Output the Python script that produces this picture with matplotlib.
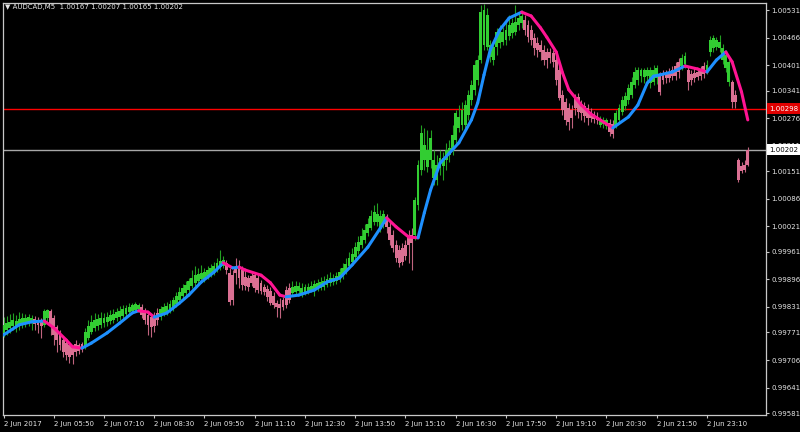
import numpy as np
import matplotlib
matplotlib.use("Agg")
import matplotlib.pyplot as plt
from matplotlib.transforms import blended_transform_factory

# AUDCAD M5, 2 Jun 2017 04:30 onwards (Heiken-Ashi style bars), last 4 bars = Monday open
bar_open = [
    0.99770, 0.99777, 0.99782, 0.99786, 0.99784, 0.99789, 0.99791, 0.99796, 0.99796, 0.99796, 0.99803, 0.99800, 0.99798, 0.99789, 0.99805, 0.99822,
    0.99805, 0.99784, 0.99770, 0.99753, 0.99746, 0.99741, 0.99737, 0.99744, 0.99741, 0.99744, 0.99739, 0.99758, 0.99772, 0.99782, 0.99786, 0.99789,
    0.99793, 0.99796, 0.99798, 0.99800, 0.99805, 0.99807, 0.99810, 0.99815, 0.99819, 0.99822, 0.99824, 0.99826, 0.99831, 0.99819, 0.99812, 0.99807,
    0.99805, 0.99817, 0.99807, 0.99815, 0.99819, 0.99824, 0.99829, 0.99838, 0.99848, 0.99857, 0.99864, 0.99871, 0.99881, 0.99888, 0.99892, 0.99897,
    0.99897, 0.99904, 0.99909, 0.99913, 0.99918, 0.99925, 0.99928, 0.99935, 0.99911, 0.99906, 0.99925, 0.99923, 0.99918, 0.99902, 0.99899, 0.99904,
    0.99906, 0.99899, 0.99888, 0.99878, 0.99873, 0.99869, 0.99857, 0.99840, 0.99838, 0.99848, 0.99871, 0.99876, 0.99864, 0.99866, 0.99869, 0.99864,
    0.99866, 0.99869, 0.99871, 0.99871, 0.99873, 0.99876, 0.99878, 0.99883, 0.99888, 0.99890, 0.99892, 0.99897, 0.99904, 0.99913, 0.99928, 0.99937,
    0.99949, 0.99963, 0.99977, 0.99989, 1.00005, 1.00017, 1.00031, 1.00031, 1.00017, 1.00027, 1.00041, 1.00020, 1.00001, 0.99977, 0.99965, 0.99970,
    0.99977, 0.99998, 1.00001, 1.00001, 1.00071, 1.00154, 1.00178, 1.00161, 1.00178, 1.00135, 1.00130, 1.00159, 1.00163, 1.00178, 1.00189, 1.00201,
    1.00225, 1.00253, 1.00260, 1.00260, 1.00284, 1.00319, 1.00343, 1.00366, 1.00413, 1.00449, 1.00444, 1.00420, 1.00413, 1.00444, 1.00453, 1.00456,
    1.00460, 1.00470, 1.00477, 1.00479, 1.00496, 1.00500, 1.00507, 1.00496, 1.00484, 1.00465, 1.00453, 1.00449, 1.00437, 1.00432, 1.00432, 1.00430,
    1.00413, 1.00390, 1.00331, 1.00314, 1.00300, 1.00295, 1.00324, 1.00326, 1.00310, 1.00305, 1.00300, 1.00291, 1.00286, 1.00281, 1.00260, 1.00262,
    1.00258, 1.00265, 1.00262, 1.00260, 1.00272, 1.00291, 1.00305, 1.00319, 1.00331, 1.00354, 1.00366, 1.00375, 1.00373, 1.00375, 1.00359, 1.00361,
    1.00371, 1.00375, 1.00380, 1.00380, 1.00383, 1.00390, 1.00399, 1.00409, 1.00399, 1.00404, 1.00390, 1.00380, 1.00383, 1.00385, 1.00387, 1.00399,
    1.00390, 1.00432, 1.00441, 1.00444, 1.00441, 1.00413, 1.00394, 1.00361, 1.00361, 1.00331, 1.00178, 1.00163, 1.00166, 1.00201,
]
bar_close = [
    0.99789, 0.99793, 0.99796, 0.99800, 0.99798, 0.99803, 0.99805, 0.99805, 0.99807, 0.99805, 0.99791, 0.99789, 0.99786, 0.99822, 0.99824, 0.99789,
    0.99765, 0.99753, 0.99741, 0.99725, 0.99718, 0.99713, 0.99718, 0.99725, 0.99727, 0.99732, 0.99772, 0.99786, 0.99796, 0.99800, 0.99803, 0.99805,
    0.99805, 0.99807, 0.99812, 0.99815, 0.99819, 0.99822, 0.99826, 0.99829, 0.99831, 0.99836, 0.99838, 0.99836, 0.99812, 0.99800, 0.99789, 0.99784,
    0.99786, 0.99800, 0.99826, 0.99831, 0.99833, 0.99838, 0.99848, 0.99857, 0.99866, 0.99876, 0.99883, 0.99892, 0.99899, 0.99906, 0.99909, 0.99911,
    0.99913, 0.99918, 0.99923, 0.99928, 0.99935, 0.99939, 0.99942, 0.99918, 0.99843, 0.99848, 0.99911, 0.99899, 0.99883, 0.99881, 0.99878, 0.99888,
    0.99876, 0.99871, 0.99869, 0.99866, 0.99855, 0.99840, 0.99836, 0.99831, 0.99829, 0.99831, 0.99836, 0.99848, 0.99878, 0.99881, 0.99881, 0.99876,
    0.99878, 0.99878, 0.99881, 0.99885, 0.99888, 0.99890, 0.99892, 0.99897, 0.99899, 0.99899, 0.99904, 0.99913, 0.99923, 0.99932, 0.99947, 0.99956,
    0.99972, 0.99984, 0.99998, 1.00013, 1.00027, 1.00046, 1.00055, 1.00050, 1.00046, 1.00050, 1.00020, 0.99989, 0.99970, 0.99947, 0.99935, 0.99937,
    0.99951, 0.99977, 0.99982, 1.00083, 1.00166, 1.00241, 1.00213, 1.00201, 1.00229, 1.00178, 1.00166, 1.00182, 1.00182, 1.00201, 1.00206, 1.00236,
    1.00288, 1.00279, 1.00295, 1.00307, 1.00331, 1.00354, 1.00401, 1.00413, 1.00526, 1.00531, 1.00519, 1.00449, 1.00444, 1.00479, 1.00484, 1.00479,
    1.00484, 1.00496, 1.00500, 1.00503, 1.00512, 1.00517, 1.00484, 1.00467, 1.00460, 1.00441, 1.00437, 1.00432, 1.00413, 1.00413, 1.00418, 1.00409,
    1.00366, 1.00324, 1.00295, 1.00272, 1.00267, 1.00276, 1.00300, 1.00291, 1.00288, 1.00281, 1.00276, 1.00276, 1.00274, 1.00272, 1.00274, 1.00272,
    1.00272, 1.00244, 1.00239, 1.00288, 1.00300, 1.00319, 1.00328, 1.00347, 1.00361, 1.00385, 1.00390, 1.00390, 1.00390, 1.00390, 1.00390, 1.00390,
    1.00394, 1.00338, 1.00366, 1.00371, 1.00371, 1.00375, 1.00375, 1.00385, 1.00418, 1.00423, 1.00361, 1.00366, 1.00371, 1.00373, 1.00375, 1.00380,
    1.00401, 1.00460, 1.00465, 1.00460, 1.00456, 1.00441, 1.00425, 1.00409, 1.00314, 1.00314, 1.00130, 1.00152, 1.00154, 1.00166,
]
bar_high = [
    0.99807, 0.99810, 0.99815, 0.99817, 0.99812, 0.99819, 0.99817, 0.99815, 0.99815, 0.99812, 0.99810, 0.99807, 0.99805, 0.99826, 0.99826, 0.99826,
    0.99812, 0.99789, 0.99777, 0.99760, 0.99753, 0.99746, 0.99741, 0.99753, 0.99746, 0.99749, 0.99782, 0.99800, 0.99812, 0.99817, 0.99815, 0.99819,
    0.99817, 0.99819, 0.99824, 0.99826, 0.99829, 0.99833, 0.99836, 0.99836, 0.99840, 0.99840, 0.99843, 0.99840, 0.99838, 0.99829, 0.99819, 0.99815,
    0.99819, 0.99829, 0.99833, 0.99840, 0.99843, 0.99848, 0.99855, 0.99866, 0.99878, 0.99885, 0.99892, 0.99899, 0.99918, 0.99928, 0.99923, 0.99930,
    0.99923, 0.99928, 0.99932, 0.99937, 0.99947, 0.99965, 0.99951, 0.99942, 0.99923, 0.99918, 0.99947, 0.99942, 0.99928, 0.99918, 0.99906, 0.99913,
    0.99913, 0.99909, 0.99895, 0.99885, 0.99883, 0.99878, 0.99866, 0.99848, 0.99852, 0.99855, 0.99881, 0.99888, 0.99892, 0.99892, 0.99890, 0.99888,
    0.99885, 0.99888, 0.99892, 0.99895, 0.99897, 0.99902, 0.99904, 0.99909, 0.99913, 0.99909, 0.99913, 0.99923, 0.99935, 0.99947, 0.99961, 0.99970,
    0.99984, 0.99998, 1.00017, 1.00027, 1.00041, 1.00060, 1.00071, 1.00076, 1.00060, 1.00060, 1.00050, 1.00031, 1.00013, 0.99989, 0.99977, 0.99982,
    0.99989, 1.00013, 1.00017, 1.00090, 1.00178, 1.00260, 1.00253, 1.00248, 1.00248, 1.00201, 1.00189, 1.00201, 1.00196, 1.00218, 1.00225, 1.00260,
    1.00295, 1.00307, 1.00314, 1.00319, 1.00343, 1.00366, 1.00413, 1.00425, 1.00543, 1.00545, 1.00536, 1.00460, 1.00456, 1.00489, 1.00496, 1.00491,
    1.00503, 1.00519, 1.00512, 1.00543, 1.00526, 1.00531, 1.00519, 1.00507, 1.00496, 1.00477, 1.00467, 1.00460, 1.00449, 1.00441, 1.00441, 1.00437,
    1.00425, 1.00401, 1.00343, 1.00324, 1.00312, 1.00307, 1.00333, 1.00335, 1.00319, 1.00314, 1.00310, 1.00300, 1.00293, 1.00291, 1.00281, 1.00279,
    1.00276, 1.00274, 1.00272, 1.00295, 1.00310, 1.00328, 1.00338, 1.00357, 1.00373, 1.00397, 1.00397, 1.00394, 1.00394, 1.00397, 1.00397, 1.00401,
    1.00401, 1.00385, 1.00390, 1.00390, 1.00394, 1.00399, 1.00409, 1.00418, 1.00427, 1.00432, 1.00399, 1.00390, 1.00394, 1.00394, 1.00399, 1.00409,
    1.00413, 1.00470, 1.00472, 1.00467, 1.00472, 1.00451, 1.00437, 1.00418, 1.00366, 1.00343, 1.00182, 1.00173, 1.00178, 1.00208,
]
bar_low = [
    0.99760, 0.99765, 0.99770, 0.99777, 0.99772, 0.99777, 0.99782, 0.99784, 0.99786, 0.99777, 0.99777, 0.99770, 0.99758, 0.99784, 0.99796, 0.99765,
    0.99741, 0.99725, 0.99730, 0.99713, 0.99706, 0.99699, 0.99697, 0.99716, 0.99720, 0.99725, 0.99732, 0.99753, 0.99767, 0.99774, 0.99777, 0.99782,
    0.99784, 0.99786, 0.99791, 0.99793, 0.99798, 0.99800, 0.99805, 0.99807, 0.99810, 0.99817, 0.99819, 0.99819, 0.99805, 0.99791, 0.99765, 0.99760,
    0.99772, 0.99789, 0.99800, 0.99810, 0.99812, 0.99817, 0.99822, 0.99831, 0.99840, 0.99852, 0.99857, 0.99866, 0.99876, 0.99881, 0.99885, 0.99890,
    0.99890, 0.99897, 0.99902, 0.99906, 0.99913, 0.99918, 0.99923, 0.99909, 0.99836, 0.99836, 0.99885, 0.99876, 0.99871, 0.99871, 0.99869, 0.99881,
    0.99866, 0.99864, 0.99862, 0.99859, 0.99845, 0.99836, 0.99829, 0.99807, 0.99805, 0.99824, 0.99829, 0.99840, 0.99857, 0.99862, 0.99859, 0.99855,
    0.99859, 0.99862, 0.99866, 0.99857, 0.99869, 0.99871, 0.99871, 0.99878, 0.99881, 0.99883, 0.99885, 0.99890, 0.99897, 0.99909, 0.99921, 0.99932,
    0.99944, 0.99956, 0.99970, 0.99982, 0.99998, 1.00013, 1.00024, 1.00022, 1.00008, 1.00017, 1.00005, 0.99977, 0.99961, 0.99937, 0.99925, 0.99930,
    0.99942, 0.99935, 0.99918, 0.99989, 1.00060, 1.00142, 1.00154, 1.00149, 1.00159, 1.00119, 1.00119, 1.00142, 1.00130, 1.00154, 1.00173, 1.00189,
    1.00213, 1.00244, 1.00248, 1.00248, 1.00272, 1.00307, 1.00331, 1.00354, 1.00406, 1.00437, 1.00437, 1.00409, 1.00401, 1.00425, 1.00441, 1.00449,
    1.00449, 1.00460, 1.00465, 1.00472, 1.00484, 1.00489, 1.00472, 1.00456, 1.00449, 1.00425, 1.00420, 1.00413, 1.00401, 1.00394, 1.00406, 1.00397,
    1.00354, 1.00319, 1.00284, 1.00260, 1.00248, 1.00253, 1.00284, 1.00276, 1.00272, 1.00267, 1.00260, 1.00267, 1.00265, 1.00262, 1.00255, 1.00253,
    1.00251, 1.00234, 1.00229, 1.00253, 1.00265, 1.00284, 1.00295, 1.00310, 1.00324, 1.00347, 1.00354, 1.00361, 1.00359, 1.00354, 1.00347, 1.00354,
    1.00357, 1.00331, 1.00357, 1.00359, 1.00361, 1.00366, 1.00366, 1.00371, 1.00390, 1.00394, 1.00343, 1.00354, 1.00361, 1.00366, 1.00366, 1.00371,
    1.00380, 1.00423, 1.00432, 1.00437, 1.00432, 1.00404, 1.00385, 1.00352, 1.00300, 1.00300, 1.00126, 1.00147, 1.00149, 1.00163,
]

# moving average read at a few bar positions (blue = rising, pink = falling)
ma_idx = [0, 5, 9, 13, 16, 20, 22, 25, 28, 33, 37, 41, 43, 46, 48, 52, 56, 59, 63, 67,
          70, 73, 75, 77, 82, 85, 88, 90, 94, 99, 103, 107, 111, 116, 120, 122, 125, 129, 132, 134,
          136, 139, 142, 145, 149, 151, 153, 155, 158, 161, 165, 168, 171, 173, 176, 178, 180, 184, 187, 190,
          194, 199, 202, 205, 207, 209, 213, 217, 221, 224, 227, 230, 232, 235, 237]
ma_val = [0.99765, 0.99789, 0.99796, 0.99798, 0.99782, 0.99753, 0.99737, 0.99734, 0.99746, 0.99770,
          0.99793, 0.99817, 0.99822, 0.99819, 0.99807, 0.99817, 0.99840, 0.99859, 0.99890, 0.99913,
          0.99935, 0.99923, 0.99925, 0.99918, 0.99906, 0.99888, 0.99859, 0.99855, 0.99859, 0.99871,
          0.99890, 0.99899, 0.99930, 0.99972, 1.00017, 1.00041, 1.00020, 0.99996, 0.99994, 1.00053,
          1.00107, 1.00170, 1.00194, 1.00218, 1.00272, 1.00312, 1.00378, 1.00437, 1.00484, 1.00512,
          1.00526, 1.00517, 1.00489, 1.00467, 1.00432, 1.00383, 1.00343, 1.00307, 1.00286, 1.00272,
          1.00253, 1.00279, 1.00307, 1.00359, 1.00375, 1.00378, 1.00385, 1.00399, 1.00392, 1.00385,
          1.00413, 1.00432, 1.00409, 1.00338, 1.00272]

time_idx = [0, 16, 32, 48, 64, 80, 96, 112, 128, 144, 160, 176, 192, 208, 224]
time_labels = ['2 Jun 2017', '2 Jun 05:50', '2 Jun 07:10', '2 Jun 08:30', '2 Jun 09:50',
               '2 Jun 11:10', '2 Jun 12:30', '2 Jun 13:50', '2 Jun 15:10', '2 Jun 16:30',
               '2 Jun 17:50', '2 Jun 19:10', '2 Jun 20:30', '2 Jun 21:50', '2 Jun 23:10']
price_ticks = [1.00531, 1.00466, 1.00401, 1.00341, 1.00276, 1.00211, 1.00151, 1.00086,
               1.00021, 0.99961, 0.99896, 0.99831, 0.99771, 0.99706, 0.99641, 0.99581]
ask_price = 1.00298
bid_price = 1.00202
header = '\u25bc AUDCAD,M5  1.00167 1.00207 1.00165 1.00202'

fg = '#c8c8c8'
txt = '#e6e6e6'
up_col, dn_col = '#32cd32', '#db7093'
up_wick, dn_wick = '#22a022', '#c0647f'
ma_up, ma_dn = '#1e90ff', '#ff1493'
fs = 5.0

fig = plt.figure(figsize=(8, 4.32), dpi=100, facecolor='black')
ax = fig.add_axes([3 / 800, 17 / 432, 763 / 800, 412 / 432], facecolor='black')

o = np.array(bar_open)
c = np.array(bar_close)
h = np.array(bar_high)
l = np.array(bar_low)
x = np.arange(len(o))
up = c >= o

# ask / bid lines
ax.axhline(ask_price, color='#ff0000', lw=1.0, zorder=1)
ax.axhline(bid_price, color='#a8a8a8', lw=1.0, zorder=1)

ax.vlines(x[up], l[up], h[up], color=up_wick, lw=0.8, zorder=2)
ax.vlines(x[~up], l[~up], h[~up], color=dn_wick, lw=0.8, zorder=2)
ax.bar(x[up], (c - o)[up], bottom=o[up], width=0.92, color=up_col, linewidth=0, zorder=3)
ax.bar(x[~up], (o - c)[~up], bottom=c[~up], width=0.92, color=dn_col, linewidth=0, zorder=3)

for k in range(len(ma_idx) - 1):
    col = ma_up if ma_val[k + 1] >= ma_val[k] else ma_dn
    ax.plot(ma_idx[k:k + 2], ma_val[k:k + 2], color=col, lw=2.2,
            solid_capstyle='round', zorder=4)

ax.set_xlim(-0.16, 242.8)
ax.set_ylim(0.995764, 1.005475)

for sp in ax.spines.values():
    sp.set_color(fg)
    sp.set_linewidth(0.9)

ax.yaxis.tick_right()
ax.set_yticks(price_ticks)
ax.set_yticklabels(['%.5f' % v for v in price_ticks])
ax.set_xticks(time_idx)
ax.set_xticklabels(time_labels, ha='left')
ax.tick_params(axis='both', colors=fg, labelcolor=txt, labelsize=fs,
               length=2.5, width=0.8, direction='out')
ax.tick_params(axis='y', pad=1.5)
ax.tick_params(axis='x', pad=1.5)

ax.text(0.003, 0.990, header, transform=ax.transAxes, color=txt,
        fontsize=fs, va='center', ha='left')

tr = blended_transform_factory(ax.transAxes, ax.transData)
ax.text(1.004, ask_price, '%.5f' % ask_price, transform=tr, color='white', fontsize=fs,
        va='center', ha='left', zorder=6, clip_on=False,
        bbox=dict(boxstyle='square,pad=0.35', fc='#e00000', ec='none'))
ax.text(1.004, bid_price, '%.5f' % bid_price, transform=tr, color='black', fontsize=fs,
        va='center', ha='left', zorder=6, clip_on=False,
        bbox=dict(boxstyle='square,pad=0.35', fc='white', ec='none'))

fig.savefig('out.png', dpi=100, facecolor='black')
